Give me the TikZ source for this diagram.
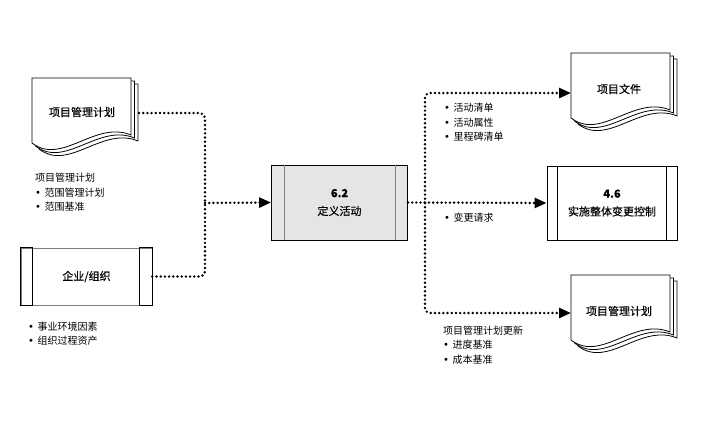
\documentclass[tikz,border=0pt]{standalone}
\usepackage{fontspec}
\setmainfont{Noto Sans CJK SC}
\newfontfamily\boxfont[FakeBold=0.3]{Noto Sans CJK SC}
\newfontfamily\bulfont{DejaVu Sans}
\usetikzlibrary{arrows.meta}
\newcommand\mydoc[2]{%
 \foreach \o/\p in {7/6,3.5/3,0/0}{%
  \draw[page] ({#1+\o},{#2+\p}) -- ({#1+\o+99},{#2+\p}) -- ({#1+\o+99},{#2+\p+57})
   .. controls ({#1+\o+63},{#2+\p+42}) and ({#1+\o+30},{#2+\p+88}) .. ({#1+\o},{#2+\p+65}) -- cycle;}}
\newcommand\bl{{\bulfont •}\hspace{3.5pt}}
\tikzset{
 dotline/.style={line width=2.7pt, dash pattern=on 0pt off 4.2pt, line cap=round, rounded corners=5pt},
 arr/.style={-{Triangle[length=12pt,width=10pt]}},
 boxtxt/.style={font=\fontsize{11}{18}\selectfont\boxfont, align=center},
 lbl/.style={font=\fontsize{10}{14.5}\selectfont, align=left, anchor=west, inner sep=0pt},
 page/.style={draw, fill=white, line width=0.8pt},
}
\begin{document}
\begin{tikzpicture}[x=1pt,y=-1pt]
\useasboundingbox[fill=white] (0,0) rectangle (704,432);
% documents
\mydoc{32}{78}
\mydoc{571}{53}
\mydoc{571}{275}
\node[boxtxt] (pmp) at (82,112) {项目管理计划};
\node[boxtxt] (pdoc) at (619,89) {项目文件};
\node[boxtxt] (pmpu) at (619,311) {项目管理计划};
\coordinate (d1out) at (139,113);
\coordinate (d2in) at (571,93);
\coordinate (d3in) at (571,313);
% enterprise box
\node[draw=gray, line width=0.6pt, minimum width=131pt, minimum height=57pt, boxtxt] (ent) at (86.5,276.5) {企业/组织};
\draw[line width=0.9pt] (ent.north west) rectangle ([xshift=12pt]ent.south west);
\draw[line width=0.9pt] (ent.north east) rectangle ([xshift=-13pt]ent.south east);
% activity box
\node[draw, line width=0.9pt, fill=gray!20, minimum width=136pt, minimum height=75pt, boxtxt] (act) at (339.5,202.5) {\textbf{6.2}\\定义活动};
\draw[gray, line width=0.6pt] ([xshift=13pt]act.north west) -- ([xshift=13pt]act.south west);
\draw[gray, line width=0.6pt] ([xshift=-13pt]act.north east) -- ([xshift=-13pt]act.south east);
% 4.6 box
\node[draw, line width=0.9pt, minimum width=130pt, minimum height=74pt, boxtxt] (ichg) at (612,203) {\textbf{4.6}\\实施整体变更控制};
\draw[line width=0.6pt] ([xshift=11pt]ichg.north west) -- ([xshift=11pt]ichg.south west);
\draw[line width=0.6pt] ([xshift=-11pt]ichg.north east) -- ([xshift=-11pt]ichg.south east);
% junctions
\coordinate (lj) at (205,203);
\coordinate (rj) at (425,203);
% connectors
\draw[dotline] (d1out) -| (lj);
\draw[dotline] (ent.east) -| (lj);
\draw[dotline,arr] (lj) -- (act.west);
\draw[dotline,arr] (act.east) -- (ichg.west);
\draw[dotline,arr] (rj) |- (d2in);
\draw[dotline,arr] (rj) |- (d3in);
% labels
\node[lbl] (l1) at (35,192.5) {项目管理计划\\\bl 范围管理计划\\\bl 范围基准};
\node[lbl] (l2) at (28,333.5) {\bl 事业环境因素\\\bl 组织过程资产};
\node[lbl] (l3) at (444,122.5) {\bl 活动清单\\\bl 活动属性\\\bl 里程碑清单};
\node[lbl] (l4) at (444,218) {\bl 变更请求};
\node[lbl] (l5) at (443,345) {项目管理计划更新\\\bl 进度基准\\\bl 成本基准};
\end{tikzpicture}
\end{document}
